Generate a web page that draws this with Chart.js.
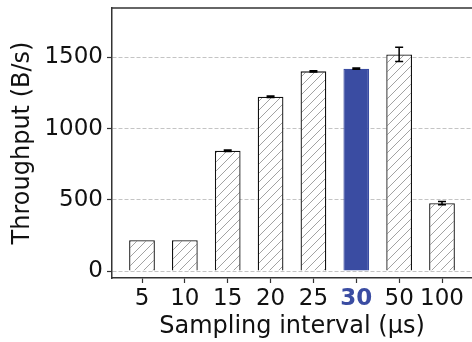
<!DOCTYPE html>
<html>
<head>
<meta charset="utf-8">
<script src="https://cdn.jsdelivr.net/npm/chart.js@4/dist/chart.umd.min.js"></script>
<style>
    html, body { margin: 0; padding: 0; background: #fff; }
    #wrap { width: 472px; height: 342px; }
</style>
</head>
<body>
<div id="wrap"><canvas id="chart" width="472" height="342"></canvas></div>
<script>
const intervals = ['5', '10', '15', '20', '25', '30', '50', '100'];
const throughput = [217, 217, 845, 1224, 1403, 1422, 1522, 477];
const errors = [0, 0, 5, 5, 4, 5, 50, 12];
const yTicks = [0, 500, 1000, 1500];
const highlight = 5;

const BLUE = '#3a4ca2';
const FONT = 'DejaVu Sans';

function makeHatch() {
    const c = document.createElement('canvas');
    c.width = 9;
    c.height = 9;
    const g = c.getContext('2d');
    g.fillStyle = '#fff';
    g.fillRect(0, 0, 9, 9);
    g.strokeStyle = '#8a8a8a';
    g.lineWidth = 0.8;
    g.beginPath();
    g.moveTo(-1, 10); g.lineTo(10, -1);
    g.moveTo(-1, 1); g.lineTo(1, -1);
    g.moveTo(8, 10); g.lineTo(10, 8);
    g.stroke();
    return g.createPattern(c, 'repeat');
}

const hatch = makeHatch();

// error bars and top frame line
const extras = {
    id: 'extras',
    afterDatasetsDraw(chart) {
        const ctx = chart.ctx;
        const y = chart.scales.y;
        const meta = chart.getDatasetMeta(0);
        ctx.save();
        ctx.strokeStyle = '#000';
        ctx.lineWidth = 1.5;
        meta.data.forEach((bar, i) => {
            const e = errors[i];
            if (!e) return;
            const top = y.getPixelForValue(throughput[i] + e);
            const bot = y.getPixelForValue(throughput[i] - e);
            ctx.beginPath();
            ctx.moveTo(bar.x, top); ctx.lineTo(bar.x, bot);
            ctx.moveTo(bar.x - 4, top); ctx.lineTo(bar.x + 4, top);
            ctx.moveTo(bar.x - 4, bot); ctx.lineTo(bar.x + 4, bot);
            ctx.stroke();
        });
        const a = chart.chartArea;
        ctx.strokeStyle = '#333';
        ctx.lineWidth = 1.5;
        ctx.beginPath();
        ctx.moveTo(a.left, a.top);
        ctx.lineTo(a.right, a.top);
        ctx.stroke();
        ctx.restore();
    }
};

new Chart(document.getElementById('chart'), {
    type: 'bar',
    data: {
        datasets: [{
            data: throughput.map((v, i) => ({ x: i, y: v })),
            backgroundColor: throughput.map((v, i) => i === highlight ? BLUE : hatch),
            borderColor: throughput.map((v, i) => i === highlight ? BLUE : '#111'),
            borderWidth: 1.3,
            barPercentage: 1,
            categoryPercentage: 0.6
        }]
    },
    options: {
        responsive: false,
        animation: false,
        layout: { padding: { top: 8, right: 0, left: 0, bottom: 0 } },
        plugins: { legend: { display: false }, tooltip: { enabled: false } },
        scales: {
            x: {
                type: 'linear',
                min: -0.7,
                max: 7.7,
                offset: false,
                afterBuildTicks: s => { s.ticks = intervals.map((_, i) => ({ value: i })); },
                afterFit: s => { s.height = 64; s.paddingLeft = 0; s.paddingRight = 0; },
                ticks: {
                    callback: v => intervals[v],
                    color: c => c.index === highlight ? BLUE : '#111',
                    font: c => ({ family: FONT, size: 23, weight: c.index === highlight ? 'bold' : 'normal' }),
                    padding: 2,
                    maxRotation: 0,
                    autoSkip: false
                },
                grid: { offset: false, drawOnChartArea: false, drawTicks: true, tickLength: 5, tickColor: '#333', tickWidth: 1.2 },
                border: { color: '#333', width: 1.5 },
                title: {
                    display: true,
                    text: 'Sampling interval (µs)',
                    color: '#111',
                    font: { family: FONT, size: 24 },
                    padding: { top: 0, bottom: 1 }
                }
            },
            y: {
                min: -49,
                max: 1848,
                afterBuildTicks: s => { s.ticks = yTicks.map(v => ({ value: v })); },
                afterFit: s => { s.width = 112; s.paddingTop = 0; s.paddingBottom = 0; },
                ticks: {
                    callback: v => String(v),
                    color: '#111',
                    font: { family: FONT, size: 23 },
                    padding: 4
                },
                grid: { color: '#c4c4c4', lineWidth: 1, tickLength: 5, tickColor: '#333', tickWidth: 1.2 },
                border: { color: '#333', width: 1.5, dash: [4, 2] },
                title: {
                    display: true,
                    text: 'Throughput (B/s)',
                    color: '#111',
                    font: { family: FONT, size: 24 },
                    padding: { top: 8, bottom: 4 }
                }
            }
        }
    },
    plugins: [extras]
});
</script>
</body>
</html>
